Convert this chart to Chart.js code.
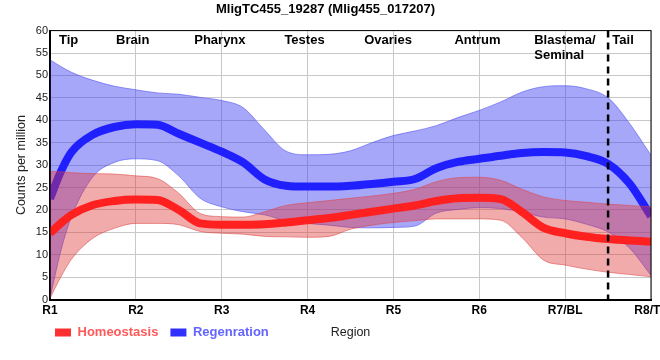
<!DOCTYPE html>
<html>
<head>
<meta charset="utf-8">
<script src="https://cdn.jsdelivr.net/npm/chart.js@4.4.0/dist/chart.umd.min.js"></script>
<style>
  html, body { margin: 0; padding: 0; background: #fff; }
  #wrap { width: 660px; height: 360px; }
</style>
</head>
<body>
<div id="wrap"><canvas id="chart"></canvas></div>
<script>
// sample positions along the body (R1 = 1 ... R8 = 8)
const regionX = [1, 1.125, 1.25, 1.5, 1.75, 2, 2.25, 2.5, 2.75, 3, 3.25, 3.5, 3.75, 4, 4.25,
                 4.5, 4.75, 5, 5.25, 5.5, 5.75, 6, 6.25, 6.5, 6.75, 7, 7.25, 7.5, 7.75, 8];
const xLabels = ['R1', 'R2', 'R3', 'R4', 'R5', 'R6', 'R7/BL', 'R8/TL'];

// Homeostasis
const homeoMean  = [14.8, 17.0, 18.9, 21.1, 22.0, 22.3, 22.2, 20.0, 17.0, 16.7, 16.7, 16.8, 17.2, 17.7, 18.2,
                    18.9, 19.6, 20.3, 21.0, 22.0, 22.6, 22.7, 22.4, 19.5, 16.0, 14.8, 14.0, 13.5, 13.2, 12.9];
const homeoUpper = [28.6, 28.5, 28.3, 28.1, 28.0, 27.6, 27.0, 23.7, 19.2, 18.5, 18.4, 19.6, 21.0, 21.6, 22.1,
                    22.6, 23.1, 23.7, 24.6, 26.3, 27.2, 27.3, 26.6, 24.6, 22.9, 22.1, 21.7, 21.3, 21.0, 20.7];
const homeoLower = [0.3, 5.0, 9.0, 13.7, 15.9, 17.0, 17.0, 16.7, 15.2, 14.8, 14.6, 14.1, 14.0, 13.9, 14.1,
                    15.7, 16.6, 17.2, 17.6, 18.0, 18.0, 18.0, 17.7, 13.8, 8.8, 7.7, 6.8, 6.1, 5.6, 5.1];

// Regeneration
const regenMean  = [22.5, 28.5, 32.9, 36.8, 38.5, 39.1, 39.0, 37.0, 35.0, 33.0, 30.6, 26.8, 25.4, 25.2, 25.2,
                    25.4, 25.8, 26.3, 26.9, 29.3, 30.7, 31.4, 32.1, 32.7, 32.9, 32.8, 32.0, 30.3, 25.9, 18.6];
const regenUpper = [53.5, 52.0, 50.7, 48.9, 47.6, 46.8, 46.1, 45.8, 45.1, 44.4, 42.8, 37.8, 33.1, 32.3, 32.4,
                    33.2, 35.0, 36.6, 37.6, 38.8, 40.6, 42.2, 44.1, 46.3, 47.5, 47.7, 47.0, 45.0, 39.3, 32.2];
const regenLower = [0.3, 10.8, 18.5, 27.4, 30.6, 31.4, 31.0, 27.6, 22.6, 20.7, 19.6, 18.9, 17.6, 17.0, 16.6,
                    16.1, 16.0, 16.1, 16.4, 19.3, 20.1, 20.5, 20.3, 19.5, 18.4, 18.0, 16.8, 15.1, 11.5, 5.4];

const seriesNames = ['Homeostasis', 'Regenration'];

// body parts written across the top, and where each starts on the x scale
const bodyParts = ['Tip', 'Brain', 'Pharynx', 'Testes', 'Ovaries', 'Antrum', 'Blastema/\nSeminal', 'Tail'];
const bodyPartAt = [1.105, 1.77, 2.68, 3.73, 4.66, 5.71, 6.64, 7.55];
const dividerAt = 7.5;

const RED = '#ff2020', BLUE = '#2020ff';
const FONT = '"Liberation Sans", Arial, sans-serif';

Chart.defaults.font.family = FONT;
Chart.defaults.color = '#222';

const pts = arr => arr.map((v, i) => ({x: regionX[i], y: v}));

const edge = (data, color, fill, bg) => ({
  data: pts(data), borderColor: color, borderWidth: 1, fill: fill, backgroundColor: bg,
  pointRadius: 0, cubicInterpolationMode: 'monotone'
});

const overlay = {
  id: 'overlay',
  afterLayout(chart) {
    // line the legend up under the plot's left edge, on the same row as "Region"
    const lg = chart.legend;
    lg.left -= 7; lg.right -= 7;
    lg.top -= 8; lg.bottom -= 8;
  },
  afterDatasetsDraw(chart) {
    const {ctx, chartArea: a, scales: {x}} = chart;
    ctx.save();
    ctx.strokeStyle = '#000';
    ctx.lineWidth = 1;
    ctx.strokeRect(a.left, a.top, a.width, a.height);

    const dx = x.getPixelForValue(dividerAt);
    ctx.lineWidth = 2.5;
    ctx.setLineDash([7, 5]);
    ctx.beginPath();
    ctx.moveTo(dx, a.top);
    ctx.lineTo(dx, a.bottom);
    ctx.stroke();
    ctx.setLineDash([]);

    ctx.fillStyle = '#000';
    ctx.font = 'bold 13px ' + FONT;
    ctx.textAlign = 'left';
    ctx.textBaseline = 'top';
    bodyParts.forEach((name, i) => {
      name.split('\n').forEach((line, j) => {
        ctx.fillText(line, x.getPixelForValue(bodyPartAt[i]), a.top + 3 + j * 15);
      });
    });

    // x axis title sits on the legend row
    const lg = chart.legend;
    ctx.fillStyle = '#222';
    ctx.font = '12.5px ' + FONT;
    ctx.textAlign = 'center';
    ctx.textBaseline = 'middle';
    ctx.fillText('Region', (a.left + a.right) / 2, lg.top + 12 + 6.5);
    ctx.restore();
  }
};

new Chart(document.getElementById('chart'), {
  type: 'line',
  data: {
    datasets: [
      {label: seriesNames[0], data: pts(homeoMean), borderColor: RED, borderWidth: 8,
       pointRadius: 0, fill: false, cubicInterpolationMode: 'monotone'},
      edge(homeoLower, 'rgba(220,70,70,0.55)', false),
      edge(homeoUpper, 'rgba(220,70,70,0.55)', '-1', 'rgba(225,55,55,0.42)'),
      {label: seriesNames[1], data: pts(regenMean), borderColor: BLUE, borderWidth: 8,
       pointRadius: 0, fill: false, cubicInterpolationMode: 'monotone'},
      edge(regenLower, 'rgba(80,80,240,0.6)', false),
      edge(regenUpper, 'rgba(80,80,240,0.6)', '-1', 'rgba(60,60,245,0.45)')
    ]
  },
  options: {
    responsive: true,
    maintainAspectRatio: false,
    animation: false,
    devicePixelRatio: 1,
    layout: { padding: { right: 9, bottom: 3 } },
    plugins: {
      title: {
        display: true,
        text: 'MligTC455_19287 (Mlig455_017207)',
        color: '#000',
        font: { size: 13, weight: 'bold' },
        padding: { top: 2, bottom: 13 }
      },
      legend: {
        position: 'bottom',
        align: 'start',
        fullSize: false,
        labels: {
          boxWidth: 16,
          boxHeight: 8,
          padding: 12,
          font: { size: 13, weight: 'bold' },
          generateLabels: () => [
            {text: seriesNames[0], fillStyle: '#ff3030', strokeStyle: '#ff3030', lineWidth: 0, fontColor: '#ff5a5a', datasetIndex: 0},
            {text: seriesNames[1], fillStyle: '#3030ff', strokeStyle: '#3030ff', lineWidth: 0, fontColor: '#6464ff', datasetIndex: 3}
          ]
        }
      },
      tooltip: { enabled: false }
    },
    scales: {
      x: {
        type: 'linear',
        min: 1,
        max: 8,
        afterFit: s => { s.paddingRight = 0; },
        ticks: {
          stepSize: 1,
          padding: 4,
          color: '#000',
          font: { size: 12, weight: 'bold' },
          callback: v => xLabels[v - 1]
        },
        grid: { color: '#c8c8c8', drawTicks: false },
        border: { color: '#000', width: 2 }
      },
      y: {
        min: 0,
        max: 60,
        afterFit: s => { s.width = 50; },
        ticks: { stepSize: 5, padding: 2, font: { size: 11 } },
        grid: { color: '#c8c8c8', drawTicks: false },
        border: { color: '#000', width: 2 },
        title: {
          display: true,
          text: 'Counts per million',
          font: { size: 12.5 },
          padding: { top: 14, bottom: 0 }
        }
      }
    }
  },
  plugins: [overlay]
});
</script>
</body>
</html>
